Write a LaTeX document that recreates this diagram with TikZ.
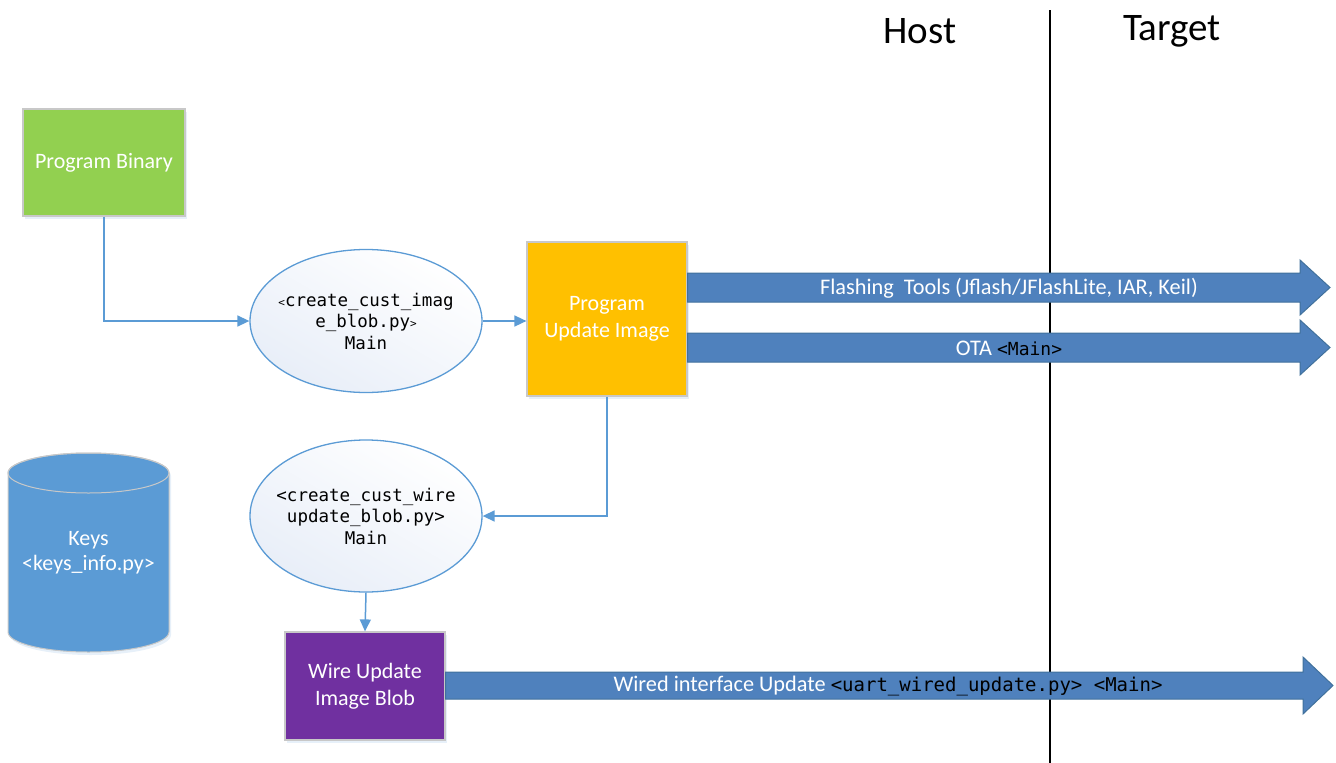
\documentclass[tikz,border=0pt]{standalone}
\usepackage{fontspec}
\setmainfont{Carlito}
\newfontfamily\monof{DejaVu Sans Mono}
\usetikzlibrary{arrows.meta,shapes.geometric,shadows,calc}
\definecolor{pbgreen}{HTML}{92D050}
\definecolor{puorange}{HTML}{FFC000}
\definecolor{wbpurple}{HTML}{7030A0}
\definecolor{keyblue}{HTML}{5B9BD5}
\definecolor{barblue}{HTML}{4F81BD}
\definecolor{barborder}{HTML}{41719C}
\definecolor{conn}{HTML}{5B9BD5}
\definecolor{boxborder}{HTML}{C8C8C8}
\definecolor{ellfill}{HTML}{E8EEF8}
\tikzset{
  procbox/.style={draw=boxborder, line width=1.2pt, text=white, align=center,
    inner sep=0pt, font=\fontsize{22}{27}\selectfont,
    drop shadow={shadow xshift=2pt, shadow yshift=-3pt, fill=keyblue, opacity=0.15}},
  scriptell/.style={ellipse, draw=conn, line width=1.3pt, inner ysep=0pt, inner xsep=-10pt,
    top color=white, bottom color=ellfill, shading angle=-30,
    align=center, font=\monof\fontsize{17.5}{21.5}\selectfont},
  connector/.style={draw=conn, line width=1.5pt, -{Triangle[length=12pt,width=11pt]}},
  bararrow/.style={fill=barblue, draw=barborder, line width=1pt},
  bartext/.style={text=white, font=\fontsize{22.3}{26}\selectfont, inner sep=0pt, anchor=center},
  sidelabel/.style={font=\fontsize{39}{45}\selectfont, inner sep=0pt}
}
\begin{document}
\begin{tikzpicture}[x=1pt,y=-1pt]
\useasboundingbox (0,0) rectangle (1336,763);

% Host / Target
\node[sidelabel] (host) at (920,31) {Host};
\node[sidelabel] (target) at (1172,31) {Target};
\coordinate (divtop) at (1050,10);
\coordinate (divbot) at (1050,763);
\draw[line width=1.2pt] (divtop) -- (divbot);

% Boxes
\node[procbox, fill=pbgreen, minimum width=162pt, minimum height=107pt] (pb) at (104,162.5) {Program Binary};
\node[procbox, fill=puorange, minimum width=160pt, minimum height=154pt] (pu) at (607,319) {Program\\Update Image};
\node[procbox, fill=wbpurple, minimum width=160pt, minimum height=108pt] (wb) at (365,686) {Wire Update\\Image Blob};

% Ellipses
\node[scriptell, minimum width=232pt, minimum height=143pt] (e1) at (366,321)
  {{\fontsize{11}{11}\selectfont<}create\_cust\_imag\\e\_blob.py{\fontsize{11}{11}\selectfont>}\\Main};
\node[scriptell, minimum width=232pt, minimum height=152pt] (e2) at (366,516)
  {<create\_cust\_wire\\update\_blob.py>\\Main};

% Keys cylinder
\fill[keyblue, drop shadow={shadow xshift=2pt, shadow yshift=-3pt, fill=keyblue, opacity=0.15}]
  (8,473) -- (8,632) arc[start angle=180, end angle=0, x radius=80.5, y radius=20]
  -- (169,473) arc[start angle=0, end angle=-180, x radius=80.5, y radius=20] -- cycle;
\draw[boxborder, line width=1pt]
  (8,473) -- (8,632) arc[start angle=180, end angle=0, x radius=80.5, y radius=20]
  -- (169,473) arc[start angle=0, end angle=-180, x radius=80.5, y radius=20] -- cycle;
\draw[boxborder, line width=1pt] (88.5,473) ellipse[x radius=80.5, y radius=20];
\node[text=white, align=center, font=\fontsize{22}{25}\selectfont, inner sep=0pt] (keys) at (88.5,553) {Keys\\<keys\_info.py>};

% Connectors
\draw[connector] (pb.south) |- (e1.west);
\draw[connector] (e1.east) -- (pu.west |- e1.east);
\draw[connector] (pu.south) |- (e2.east);
\draw[connector] (e2.south) -- (wb.north);

% Block arrows
\coordinate (fa) at (pu.east |- 0,287.5);
\coordinate (oa) at (pu.east |- 0,347.5);
\coordinate (wa) at (wb.east |- 0,685.5);
\draw[bararrow] ($(fa)+(0,-14.5)$) -- (1300,273) -- (1300,260) -- (1330,287.5) -- (1300,315) -- (1300,302) -- ($(fa)+(0,14.5)$) -- cycle;
\draw[bararrow] ($(oa)+(0,-14.5)$) -- (1300,333) -- (1300,320) -- (1330,347.5) -- (1300,375) -- (1300,362) -- ($(oa)+(0,14.5)$) -- cycle;
\draw[bararrow] ($(wa)+(0,-13.5)$) -- (1303,672) -- (1303,657) -- (1333,685.5) -- (1303,714) -- (1303,699) -- ($(wa)+(0,13.5)$) -- cycle;

\node[bartext] (ft) at (1009,288) {Flashing\ \ Tools (Jflash/JFlashLite, IAR, Keil)};
\node[bartext] (ot) at (1009,348) {OTA {\monof\fontsize{18}{20}\selectfont\color{black}<Main>}};
\node[bartext] (wt) at (888,686) {Wired interface Update {\monof\fontsize{19}{22}\selectfont\color{black}<uart\_wired\_update.py> <Main>}};
\end{tikzpicture}
\end{document}
